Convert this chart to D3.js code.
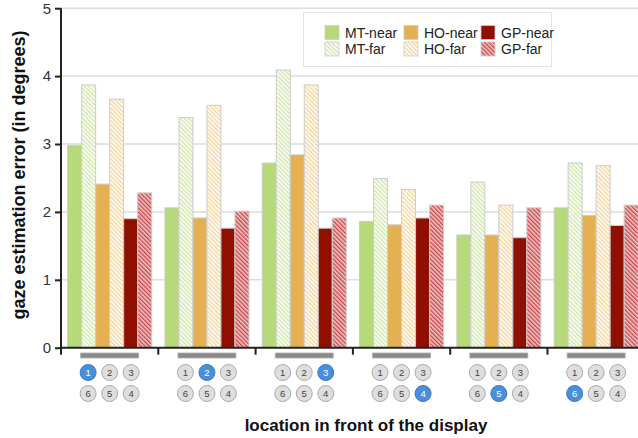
<!DOCTYPE html>
<html><head><meta charset="utf-8">
<script src="https://cdn.jsdelivr.net/npm/d3@7"></script>
<style>body{margin:0;background:#fff;}svg{display:block;font-family:"Liberation Sans",Arial,sans-serif;}</style>
</head><body>
<svg id="c" width="638" height="438"></svg>
<script>
const locations = [1, 2, 3, 4, 5, 6];
const seriesNames = ["MT-near", "MT-far", "HO-near", "HO-far", "GP-near", "GP-far"];
const mtNear = [2.98, 2.06, 2.72, 1.86, 1.66, 2.06];
const mtFar  = [3.87, 3.39, 4.09, 2.49, 2.44, 2.72];
const hoNear = [2.41, 1.91, 2.84, 1.81, 1.66, 1.95];
const hoFar  = [3.66, 3.57, 3.87, 2.33, 2.10, 2.68];
const gpNear = [1.90, 1.76, 1.76, 1.91, 1.62, 1.80];
const gpFar  = [2.28, 2.01, 1.91, 2.10, 2.06, 2.10];
const yTicks = [0, 1, 2, 3, 4, 5];
const seatRows = [[1, 2, 3], [6, 5, 4]];

const seriesValues = [mtNear, mtFar, hoNear, hoFar, gpNear, gpFar];
const svg = d3.select("#c");
const defs = svg.append("defs");

const solid = {"MT": "#b6d97a", "HO": "#e5b052", "GP": "#900f00"};
const hatch = {"MT": ["#ffffff", "#cfe6a8"], "HO": ["#ffffff", "#f5d49a"], "GP": ["#f2c7c7", "#c8474a"]};
Object.keys(hatch).forEach(k => {
  const p = defs.append("pattern").attr("id", "h" + k).attr("patternUnits", "userSpaceOnUse")
    .attr("width", 3).attr("height", 3).attr("patternTransform", "rotate(-45)");
  p.append("rect").attr("width", 3).attr("height", 3).attr("fill", hatch[k][0]);
  p.append("rect").attr("width", 1.4).attr("height", 3).attr("fill", hatch[k][1]);
});
function fillFor(name) {
  const [k, t] = name.split("-");
  return t === "near" ? solid[k] : "url(#h" + k + ")";
}

const x0 = 61, step = 97.3;
const y = d3.scaleLinear().domain([0, 5]).range([347.7, 8.2]);
const x = d3.scaleBand().domain(locations).range([x0, x0 + step * locations.length]).paddingInner(0).paddingOuter(0);
const xi = d3.scaleBand().domain(seriesNames).range([0, x.bandwidth()]).paddingInner(0).paddingOuter(0.475);

// gridlines
svg.append("g").selectAll("line").data(yTicks.filter(t => t > 0)).join("line")
  .attr("x1", x0).attr("x2", 638).attr("y1", d => y(d)).attr("y2", d => y(d))
  .attr("stroke", "#dddddd").attr("stroke-width", 1.5);

// bars
const groups = svg.append("g").selectAll("g").data(locations).join("g")
  .attr("transform", d => `translate(${x(d)},0)`);
groups.selectAll("rect").data((d, i) => seriesNames.map((s, j) => ({s, v: seriesValues[j][i]}))).join("rect")
  .attr("x", d => xi(d.s)).attr("width", xi.bandwidth())
  .attr("y", d => y(d.v)).attr("height", d => y(0) - y(d.v))
  .attr("fill", d => fillFor(d.s)).attr("stroke", "#cccccc").attr("stroke-width", 1);

// y axis
const yAxis = svg.append("g").attr("transform", `translate(${x0},0)`)
  .call(d3.axisLeft(y).tickValues(yTicks).tickFormat(d3.format("d")).tickSize(6).tickPadding(4));
yAxis.select(".domain").attr("stroke", "#222").attr("stroke-width", 2).attr("d", `M0,${y(5)}V${y(0)}`);
yAxis.selectAll(".tick line").attr("stroke", "#222").attr("stroke-width", 2);
yAxis.selectAll(".tick text").attr("font-size", 15).attr("fill", "#333").attr("font-family", "Liberation Sans, Arial, sans-serif");

// x axis
const xAxisG = svg.append("g");
xAxisG.append("line").attr("x1", x0 - 1).attr("x2", 638).attr("y1", y(0)).attr("y2", y(0))
  .attr("stroke", "#222").attr("stroke-width", 2);
xAxisG.selectAll("line.t").data(locations).join("line").attr("class", "t")
  .attr("x1", d => x(d)).attr("x2", d => x(d)).attr("y1", y(0)).attr("y2", y(0) + 7)
  .attr("stroke", "#222").attr("stroke-width", 2);

// location icons
const icons = svg.append("g").selectAll("g").data(locations).join("g")
  .attr("transform", d => `translate(${x(d) + x.bandwidth() / 2},0)`);
icons.append("rect").attr("x", -29).attr("y", 353).attr("width", 58).attr("height", 5)
  .attr("fill", "#8a8a8a").attr("stroke", "#b0b0b0").attr("stroke-width", 0.8);
seatRows.forEach((row, ri) => {
  row.forEach((seat, ci) => {
    const g = icons.append("g").attr("transform", `translate(${(ci - 1) * 21.5},${372.5 + ri * 21})`);
    g.append("circle").attr("r", 8)
      .attr("fill", d => d === seat ? "#4a8fdb" : "#dedede")
      .attr("stroke", d => d === seat ? "#3a77c0" : "#aaaaaa").attr("stroke-width", 1);
    g.append("text").text(seat).attr("text-anchor", "middle").attr("dy", "0.35em")
      .attr("font-size", 9.5).attr("fill", d => d === seat ? "#ffffff" : "#444");
  });
});

// axis titles
svg.append("text").text("location in front of the display").attr("x", 366).attr("y", 431)
  .attr("text-anchor", "middle").attr("font-weight", "bold").attr("font-size", 17).attr("fill", "#111");
svg.append("text").text("gaze estimation error (in degrees)")
  .attr("transform", "translate(25,175) rotate(-90)")
  .attr("text-anchor", "middle").attr("font-weight", "bold").attr("font-size", 18).attr("fill", "#111");

// legend
const lg = svg.append("g");
lg.append("rect").attr("x", 303.5).attr("y", 12.5).attr("width", 248).attr("height", 54)
  .attr("fill", "#fff").attr("stroke", "#e4e4e4").attr("stroke-width", 1);
const legendCols = [325, 404, 481];
seriesNames.forEach((s, i) => {
  const col = Math.floor(i / 2), row = i % 2;
  const lx = legendCols[col], ly = 25.5 + row * 16.5;
  lg.append("rect").attr("x", lx).attr("y", ly).attr("width", 14).attr("height", 14)
    .attr("fill", fillFor(s)).attr("stroke", "#cccccc").attr("stroke-width", 0.8);
  lg.append("text").text(s).attr("x", lx + 20).attr("y", ly + 12)
    .attr("font-size", 14).attr("fill", "#222");
});
</script>
</body></html>
